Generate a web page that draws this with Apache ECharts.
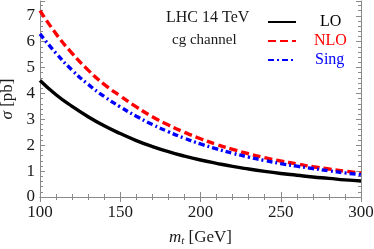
<!DOCTYPE html>
<html><head><meta charset="utf-8">
<script src="https://cdn.jsdelivr.net/npm/echarts@6/dist/echarts.min.js"></script>
<style>html,body{margin:0;padding:0;background:#fff}#c{width:374px;height:249px}</style>
</head><body><div id="c"></div>
<script>
const mt = [100,110,120,130,140,150,160,170,180,190,200,210,220,230,240,250,260,270,280,290,300];
const LO   = [4.50,3.95,3.50,3.10,2.75,2.45,2.18,1.95,1.75,1.58,1.43,1.30,1.18,1.08,0.99,0.91,0.84,0.77,0.72,0.66,0.62];
const NLO  = [7.20,6.30,5.55,4.90,4.35,3.90,3.48,3.10,2.78,2.50,2.25,2.03,1.84,1.67,1.52,1.39,1.28,1.17,1.08,1.00,0.92];
const Sing = [6.30,5.55,4.90,4.35,3.88,3.48,3.12,2.80,2.52,2.27,2.05,1.86,1.69,1.54,1.41,1.29,1.19,1.10,1.01,0.93,0.86];
const xTicks = [100,150,200,250,300];
const yTicks = [0,1,2,3,4,5,6,7];

const font = '"Liberation Serif","DejaVu Serif",serif';
const axisCol = '#8a8a8a';
const txt = '#1a1a1a';
const pairs = a => mt.map((x,i)=>[x,a[i]]);

const chart = echarts.init(document.getElementById('c'));
const tickCommon = {inside:true, length:5, lineStyle:{color:axisCol}};
const minorCommon = {show:true, splitNumber:5, length:3, lineStyle:{color:axisCol}};
const legendCommon = {itemWidth:28, itemHeight:12, itemStyle:{opacity:0, borderWidth:0}};
chart.setOption({
  animation:false,
  grid:{left:40, right:13, top:1, bottom:52, outerBoundsMode:'none', containLabel:false},
  xAxis:[{
    type:'value', min:100, max:300, interval:50,
    axisLine:{show:true, lineStyle:{color:axisCol}},
    axisTick:tickCommon, minorTick:minorCommon, splitLine:{show:false},
    axisLabel:{color:txt, fontFamily:font, fontSize:17, margin:7,
      formatter:v=>xTicks.includes(v)?String(v):''},
    name:'{i|m}{s|t} [GeV]', nameLocation:'middle', nameGap:32,
    nameTextStyle:{color:txt, fontFamily:font, fontSize:17,
      rich:{i:{fontStyle:'italic', fontFamily:font, fontSize:17, color:txt},
            s:{fontStyle:'italic', fontFamily:font, fontSize:11, color:txt, verticalAlign:'bottom', padding:[7,0,0,0]}}}
  },{
    type:'value', min:100, max:300, interval:50, position:'top',
    axisLine:{show:true, lineStyle:{color:axisCol}},
    axisTick:tickCommon, minorTick:minorCommon, axisLabel:{show:false}, splitLine:{show:false}
  }],
  yAxis:[{
    type:'value', min:0, max:7.57, interval:1,
    axisLine:{show:true, lineStyle:{color:axisCol}},
    axisTick:tickCommon, minorTick:minorCommon, splitLine:{show:false},
    axisLabel:{color:txt, fontFamily:font, fontSize:17, margin:5, showMaxLabel:false,
      formatter:v=>yTicks.includes(v)?String(v):''},
    name:'{i|σ} [pb]', nameLocation:'middle', nameGap:15, nameRotate:90,
    nameTextStyle:{color:txt, fontFamily:font, fontSize:17,
      rich:{i:{fontStyle:'italic', fontFamily:font, fontSize:17, color:txt}}}
  },{
    type:'value', min:0, max:7.57, interval:1, position:'right',
    axisLine:{show:true, lineStyle:{color:axisCol}},
    axisTick:tickCommon, minorTick:minorCommon, axisLabel:{show:false}, splitLine:{show:false}
  }],
  legend:[
    Object.assign({data:['LO'], left:262, top:9,
     textStyle:{color:'#000', fontFamily:font, fontSize:16, padding:[0,0,0,19]}}, legendCommon),
    Object.assign({data:['NLO'], left:262, top:28,
     textStyle:{color:'#ff0000', fontFamily:font, fontSize:16, padding:[0,0,0,13]}}, legendCommon),
    Object.assign({data:['Sing'], left:262, top:47,
     textStyle:{color:'#0000ff', fontFamily:font, fontSize:16, padding:[0,0,0,14]}}, legendCommon)
  ],
  graphic:[
    {type:'text', left:166, top:10, style:{text:'LHC 14 TeV', fill:txt, font:'16px "Liberation Serif", serif'}},
    {type:'text', left:172, top:33, style:{text:'cg channel', fill:txt, font:'15px "Liberation Serif", serif'}}
  ],
  series:[
    {name:'LO', type:'line', data:pairs(LO), smooth:true, symbol:'none', z:3,
     lineStyle:{color:'#000', width:3.4}, itemStyle:{color:'#000'}},
    {name:'NLO', type:'line', data:pairs(NLO), smooth:true, symbol:'none', z:2,
     lineStyle:{color:'#ff0000', width:3.4, type:[8,4]}, itemStyle:{color:'#ff0000'}},
    {name:'Sing', type:'line', data:pairs(Sing), smooth:true, symbol:'none', z:4,
     lineStyle:{color:'#0000ff', width:3.4, type:[6,3,2,3]}, itemStyle:{color:'#0000ff'}}
  ]
});
</script></body></html>
